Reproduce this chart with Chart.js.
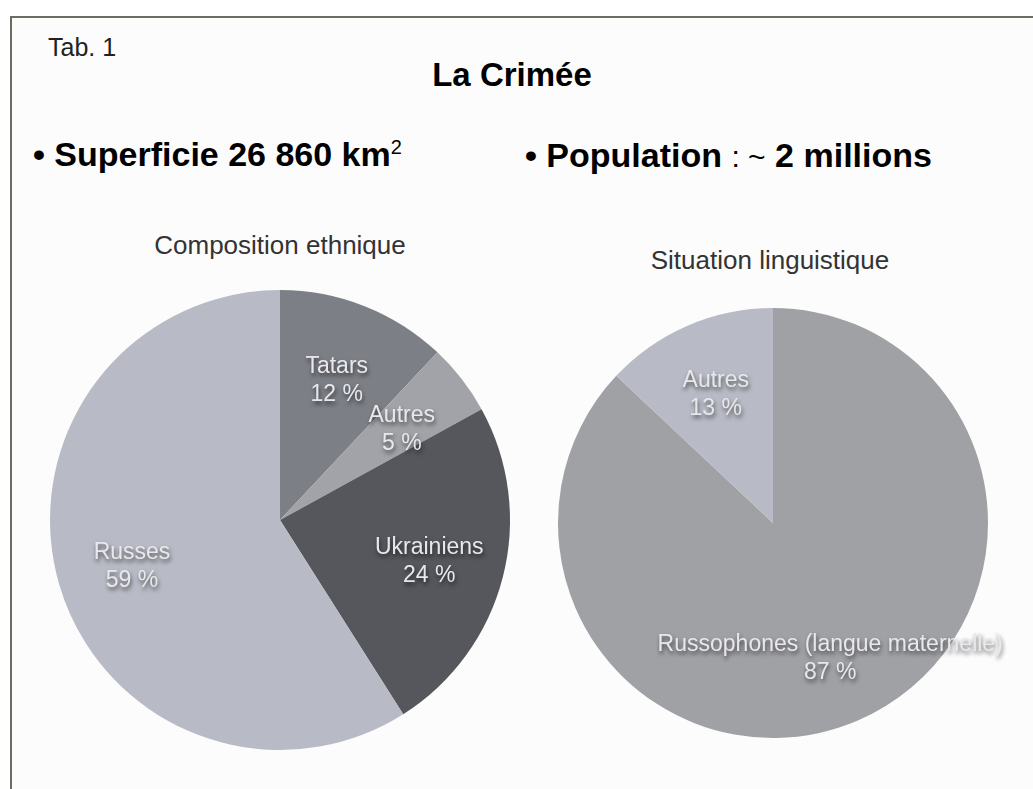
<html>
<head>
    <meta charset="utf-8">
    <title>La Crimée</title>
    <script src="https://cdn.jsdelivr.net/npm/chart.js"></script>
    <style>
        body { margin: 0; background: #ffffff; font-family: "Liberation Sans", Arial, sans-serif; }
        #page { position: absolute; left: 10px; top: 16px; width: 1040px; height: 800px;
                background: #fcfcfc; border-left: 2px solid #6e6b64; border-top: 2px solid #6e6b64; }
        .txt { position: absolute; white-space: nowrap; }
        .mid { position: absolute; white-space: nowrap; width: 400px; text-align: center; }
        .box { position: absolute; }
    </style>
</head>
<body>
<div id="page"></div>
<div class="txt" style="left:48px;top:33px;font-size:25px;color:#222;">Tab. 1</div>
<div class="mid" style="left:312px;top:56px;font-size:33px;font-weight:bold;color:#000;">La Crimée</div>
<div class="txt" style="left:33px;top:135px;font-size:34px;font-weight:bold;color:#000;">• Superficie 26 860 km<sup style="font-size:20px;font-weight:normal;">2</sup></div>
<div class="txt" style="left:525px;top:136px;font-size:34px;font-weight:bold;color:#000;">• Population <span style="font-weight:normal;font-size:30px;">:&nbsp;~</span> 2 millions</div>
<div class="mid" style="left:80px;top:230px;font-size:26px;color:#333;">Composition ethnique</div>
<div class="mid" style="left:570px;top:245px;font-size:26px;color:#333;">Situation linguistique</div>

<div class="box" style="left:0px;top:260px;width:560px;height:520px;"><canvas id="ethnic"></canvas></div>
<div class="box" style="left:533px;top:263px;width:480px;height:520px;"><canvas id="lang"></canvas></div>
<script>

    // composition ethnique
    var ethnicLabels = ["Tatars", "Autres", "Ukrainiens", "Russes"];
    var ethnicValues = [12, 5, 24, 59];
    var ethnicColors = ["#7d7f87", "#a2a3a8", "#56575c", "#b8bbc5"];

    // situation linguistique
    var langLabels = ["Russophones (langue maternelle)", "Autres"];
    var langValues = [87, 13];
    var langColors = ["#a0a1a5", "#b8bbc5"];

    // draw "name / xx %" inside each slice, like keynote does
    var sliceText = {
        id: 'sliceText',
        afterDatasetsDraw: function(chart) {
            var ctx = chart.ctx;
            var meta = chart.getDatasetMeta(0);
            var values = chart.data.datasets[0].data;
            ctx.save();
            ctx.font = '23px "Liberation Sans", Arial, sans-serif';
            ctx.textAlign = 'center';
            ctx.textBaseline = 'alphabetic';
            ctx.fillStyle = '#e8e8ec';
            ctx.shadowColor = 'rgba(0,0,0,0.6)';
            ctx.shadowOffsetX = 1;
            ctx.shadowOffsetY = 3;
            ctx.shadowBlur = 4;
            meta.data.forEach(function(arc, i) {
                var p = arc.getProps(['x', 'y', 'startAngle', 'endAngle', 'outerRadius'], true);
                var mid = (p.startAngle + p.endAngle) / 2;
                var r = p.outerRadius * 0.67;
                var cx = p.x + Math.cos(mid) * r;
                var cy = p.y + Math.sin(mid) * r;
                ctx.fillText(chart.data.labels[i], cx, cy - 4);
                ctx.fillText(values[i] + ' %', cx, cy + 24);
            });
            ctx.restore();
        }
    };

    function makePie(id, labels, values, colors, radius) {
        return new Chart(document.getElementById(id), {
            type: 'pie',
            data: {
                labels: labels,
                datasets: [{
                    data: values,
                    backgroundColor: colors,
                    borderWidth: 0,
                    radius: radius
                }]
            },
            options: {
                responsive: true,
                maintainAspectRatio: false,
                animation: false,
                layout: { padding: 0 },
                plugins: {
                    legend: { display: false },
                    tooltip: { enabled: false }
                }
            },
            plugins: [sliceText]
        });
    }

    makePie('ethnic', ethnicLabels, ethnicValues, ethnicColors, 230);
    makePie('lang', langLabels, langValues, langColors, 215);

</script>

</body>
</html>
